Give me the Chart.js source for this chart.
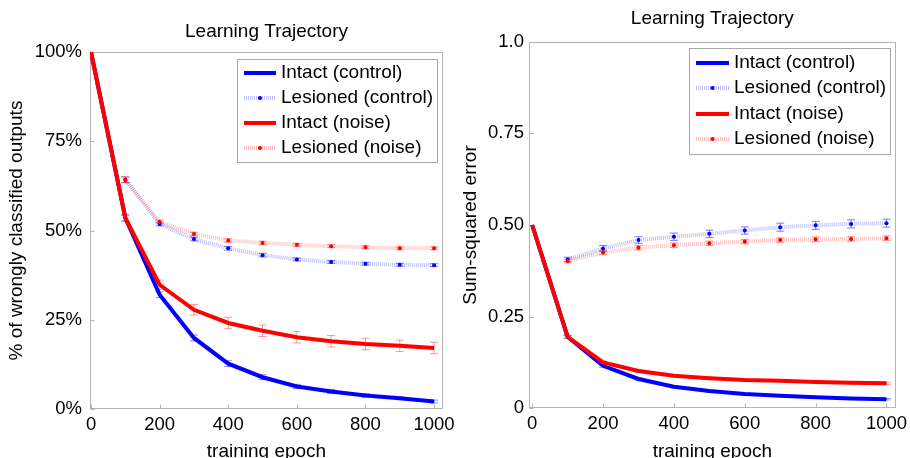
<!DOCTYPE html>
<html>
<head>
<meta charset="utf-8">
<title>Learning Trajectory</title>
<script src="https://cdn.jsdelivr.net/npm/chart.js@4.4.1/dist/chart.umd.min.js"></script>
<style>
  html, body { margin: 0; padding: 0; background: #fff; overflow: hidden; }
  #wrap { position: relative; width: 910px; height: 458px; overflow: hidden; }
  canvas { position: absolute; top: 0; }
  #errChart { left: 0; }
  #sseChart { left: 455px; }
</style>
</head>
<body>
<div id="wrap">
  <canvas id="errChart" width="455" height="470"></canvas>
  <canvas id="sseChart" width="455" height="470"></canvas>
</div>
<script>
// x values
const epochs = [0, 100, 200, 300, 400, 500, 600, 700, 800, 900, 1000];
const lesionEpochs = [100, 200, 300, 400, 500, 600, 700, 800, 900, 1000];
const xTicks = [0, 200, 400, 600, 800, 1000];
const seriesLabels = ["Intact (control)", "Lesioned (control)", "Intact (noise)", "Lesioned (noise)"];

// left panel: % of wrongly classified outputs
const pctTicks = [0, 25, 50, 75, 100];
const pctIntactControl = [100, 53.5, 32.0, 19.9, 12.7, 8.9, 6.3, 4.9, 3.8, 3.0, 2.1];
const pctIntactControlErr = [0, 0.8, 0.8, 0.8, 0.8, 0.7, 0.6, 0.6, 0.5, 0.4, 0.4];
const pctIntactNoise = [100, 53.5, 34.8, 27.8, 24.1, 21.9, 20.1, 19.0, 18.2, 17.7, 17.1];
const pctIntactNoiseErr = [0, 1.0, 1.3, 1.5, 1.6, 1.6, 1.6, 1.6, 1.6, 1.6, 1.6];
const pctLesionedControl = [64.2, 51.8, 47.6, 45.0, 43.1, 41.9, 41.2, 40.7, 40.4, 40.3];
const pctLesionedControlErr = [0.8, 0.5, 0.5, 0.5, 0.5, 0.4, 0.4, 0.4, 0.4, 0.4];
const pctLesionedNoise = [64.2, 52.4, 49.0, 47.2, 46.5, 46.0, 45.6, 45.3, 45.0, 45.0];
const pctLesionedNoiseErr = [0.8, 0.5, 0.5, 0.5, 0.5, 0.4, 0.4, 0.4, 0.4, 0.4];

// right panel: sum-squared error
const sseTicks = [0, 0.25, 0.5, 0.75, 1.0];
const sseTickLabels = ["0", "0.25", "0.50", "0.75", "1.0"];
const sseIntactControl = [0.5, 0.195, 0.116, 0.080, 0.059, 0.047, 0.039, 0.034, 0.030, 0.027, 0.025];
const sseIntactControlErr = [0, 0.004, 0.004, 0.003, 0.003, 0.002, 0.002, 0.002, 0.002, 0.002, 0.002];
const sseIntactNoise = [0.5, 0.195, 0.125, 0.102, 0.089, 0.082, 0.077, 0.075, 0.072, 0.070, 0.068];
const sseIntactNoiseErr = [0, 0.004, 0.004, 0.003, 0.003, 0.003, 0.003, 0.003, 0.003, 0.003, 0.003];
const sseLesionedControl = [0.406, 0.436, 0.459, 0.468, 0.476, 0.485, 0.494, 0.499, 0.503, 0.505];
const sseLesionedControlErr = [0.006, 0.008, 0.009, 0.010, 0.010, 0.010, 0.011, 0.011, 0.011, 0.011];
const sseLesionedNoise = [0.402, 0.425, 0.438, 0.445, 0.450, 0.455, 0.459, 0.461, 0.462, 0.464];
const sseLesionedNoiseErr = [0.005, 0.006, 0.006, 0.006, 0.006, 0.006, 0.006, 0.006, 0.006, 0.006];

const FONT = "'Liberation Sans', Arial, Helvetica, sans-serif";
Chart.defaults.font.family = FONT;
Chart.defaults.color = "#000";

function toPoints(xs, ys) {
    return xs.map((x, i) => ({ x: x, y: ys[i] }));
}

function intactSet(label, color, xs, ys, errs, errColor, order) {
    return {
        label: label, data: toPoints(xs, ys), errors: errs, errorColor: errColor,
        borderColor: color, backgroundColor: color, borderWidth: 4,
        pointRadius: 0, pointHoverRadius: 0, tension: 0, order: order
    };
}

function lesionSet(label, pale, dot, xs, ys, errs, errColor, order) {
    return {
        label: label, data: toPoints(xs, ys), errors: errs, errorColor: errColor,
        borderColor: pale, backgroundColor: pale, borderWidth: 4, borderDash: [1, 1],
        pointRadius: 2, pointHoverRadius: 2, pointBackgroundColor: dot, pointBorderWidth: 0,
        tension: 0, order: order
    };
}

// vertical error bars, drawn under the lines
const errorBars = {
    id: "errorBars",
    beforeDatasetsDraw(chart) {
        const ctx = chart.ctx;
        const yScale = chart.scales.y;
        chart.data.datasets.forEach((ds, i) => {
            if (!ds.errors) return;
            const meta = chart.getDatasetMeta(i);
            ctx.save();
            ctx.strokeStyle = ds.errorColor;
            ctx.lineWidth = 1;
            meta.data.forEach((pt, j) => {
                const e = ds.errors[j];
                if (!e) return;
                const v = ds.data[j].y;
                const top = yScale.getPixelForValue(v + e);
                const bot = yScale.getPixelForValue(v - e);
                ctx.beginPath();
                ctx.moveTo(pt.x, top); ctx.lineTo(pt.x, bot);
                ctx.moveTo(pt.x - 4, top); ctx.lineTo(pt.x + 4, top);
                ctx.moveTo(pt.x - 4, bot); ctx.lineTo(pt.x + 4, bot);
                ctx.stroke();
            });
            ctx.restore();
        });
    }
};

// light gray box round the plot with small inward ticks
const axisBox = {
    id: "axisBox",
    beforeDatasetsDraw(chart) {
        const { ctx, chartArea: a, scales } = chart;
        ctx.save();
        ctx.strokeStyle = "#b4b4b4";
        ctx.lineWidth = 1;
        const l = Math.round(a.left) + 0.5, r = Math.round(a.right) - 0.5;
        const t = Math.round(a.top) + 0.5, b = Math.round(a.bottom) - 0.5;
        ctx.strokeRect(l, t, r - l, b - t);
        ctx.beginPath();
        scales.x.ticks.forEach(tk => {
            const px = Math.round(scales.x.getPixelForValue(tk.value)) + 0.5;
            ctx.moveTo(px, b); ctx.lineTo(px, b - 4);
        });
        scales.y.ticks.forEach(tk => {
            const py = Math.round(scales.y.getPixelForValue(tk.value)) + 0.5;
            ctx.moveTo(l, py); ctx.lineTo(l + 4, py);
        });
        ctx.stroke();
        ctx.restore();
    }
};

// MATLAB style legend box inside the plot
const boxLegend = {
    id: "boxLegend",
    afterDraw(chart, args, opts) {
        const { ctx, chartArea } = chart;
        const sets = chart.data.datasets;
        ctx.save();
        ctx.font = "19px " + FONT;
        const textW = Math.max(...sets.map(d => ctx.measureText(d.label).width));
        const w = Math.round(opts.textX + textW + 4);
        const h = Math.round(sets.length * opts.rowH + 2 * opts.padY);
        const right = Math.round(chartArea.right - opts.right);
        const left = right - w;
        const top = Math.round(chartArea.top + opts.top);
        ctx.fillStyle = "#fff";
        ctx.fillRect(left, top, w, h);
        ctx.strokeStyle = "#a8a8a8";
        ctx.lineWidth = 1;
        ctx.strokeRect(left + 0.5, top + 0.5, w, h);
        sets.forEach((d, i) => {
            const cy = Math.round(top + opts.padY + opts.rowH * (i + 0.5));
            const x0 = Math.round(left + opts.lineX0), x1 = Math.round(left + opts.lineX1);
            ctx.save();
            ctx.strokeStyle = d.borderColor;
            ctx.lineWidth = d.borderWidth;
            ctx.setLineDash(d.borderDash || []);
            ctx.beginPath();
            ctx.moveTo(x0, cy);
            ctx.lineTo(x1, cy);
            ctx.stroke();
            ctx.restore();
            if (d.pointRadius) {
                ctx.fillStyle = d.pointBackgroundColor;
                ctx.beginPath();
                ctx.arc((x0 + x1) / 2, cy, d.pointRadius, 0, Math.PI * 2);
                ctx.fill();
            }
            ctx.fillStyle = "#000";
            ctx.textAlign = "left";
            ctx.textBaseline = "middle";
            ctx.fillText(d.label, left + opts.textX, cy);
        });
        ctx.restore();
    }
};

function makeChart(id, cfg) {
    return new Chart(document.getElementById(id), {
        type: "line",
        data: { datasets: cfg.datasets },
        options: {
            responsive: false,
            animation: false,
            layout: { padding: { left: 0, right: cfg.padRight, top: 0, bottom: 0 } },
            plugins: {
                legend: { display: false },
                tooltip: { enabled: false },
                title: {
                    display: true,
                    text: "Learning Trajectory",
                    fullSize: false,
                    font: { size: 19, weight: "normal" },
                    padding: cfg.titlePad
                },
                boxLegend: cfg.legend
            },
            scales: {
                x: {
                    type: "linear",
                    min: cfg.xMin,
                    max: 1026,
                    afterBuildTicks: s => { s.ticks = xTicks.map(v => ({ value: v })); },
                    afterFit: s => {
                        s.height = cfg.xHeight;
                        s.paddingLeft = 0;
                        s.paddingRight = 0;
                    },
                    grid: { display: false, drawTicks: false },
                    border: { display: false },
                    ticks: {
                        font: { size: 18.5 }, padding: 5, maxRotation: 0, autoSkip: false,
                        callback: v => String(v)
                    },
                    title: {
                        display: true, text: "training epoch",
                        font: { size: 19 }, padding: { top: 0, bottom: 6.6 }
                    }
                },
                y: {
                    type: "linear",
                    min: cfg.yMin,
                    max: cfg.yMax,
                    afterBuildTicks: s => { s.ticks = cfg.yTicks.map(v => ({ value: v })); },
                    afterFit: s => {
                        s.width = cfg.yWidth;
                        s.paddingTop = 0;
                        s.paddingBottom = 0;
                    },
                    grid: { display: false, drawTicks: false },
                    border: { display: false },
                    ticks: { font: { size: 18.5 }, padding: cfg.yTickPad, callback: cfg.yLabel },
                    title: {
                        display: true, text: cfg.yTitle,
                        font: { size: 19 }, padding: { top: cfg.yTitlePad, bottom: 0 }
                    }
                }
            }
        },
        plugins: [axisBox, errorBars, boxLegend]
    });
}

makeChart("errChart", {
    datasets: [
        intactSet(seriesLabels[0], "#0000ff", epochs, pctIntactControl, pctIntactControlErr, "rgba(0,0,255,0.45)", 1),
        lesionSet(seriesLabels[1], "rgba(0,0,255,0.25)", "#0000ff", lesionEpochs, pctLesionedControl, pctLesionedControlErr, "rgba(0,0,255,0.5)", 3),
        intactSet(seriesLabels[2], "#ff0000", epochs, pctIntactNoise, pctIntactNoiseErr, "rgba(255,0,0,0.4)", 0),
        lesionSet(seriesLabels[3], "rgba(255,0,0,0.25)", "#ff0000", lesionEpochs, pctLesionedNoise, pctLesionedNoiseErr, "rgba(255,0,0,0.45)", 2)
    ],
    padRight: 12,
    titlePad: { top: 20.6, bottom: 8.6 },
    xMin: -3,
    xHeight: 61,
    yMin: 0, yMax: 100,
    yTicks: pctTicks,
    yLabel: v => v + "%",
    yWidth: 90,
    yTickPad: 8,
    yTitle: "% of wrongly classified outputs",
    yTitlePad: 5.6,
    legend: { right: 6, top: 7, rowH: 25, padY: 1.5, lineX0: 7, lineX1: 39, textX: 44 }
});

makeChart("sseChart", {
    datasets: [
        intactSet(seriesLabels[0], "#0000ff", epochs, sseIntactControl, sseIntactControlErr, "rgba(0,0,255,0.45)", 1),
        lesionSet(seriesLabels[1], "rgba(0,0,255,0.25)", "#0000ff", lesionEpochs, sseLesionedControl, sseLesionedControlErr, "rgba(0,0,255,0.5)", 3),
        intactSet(seriesLabels[2], "#ff0000", epochs, sseIntactNoise, sseIntactNoiseErr, "rgba(255,0,0,0.4)", 0),
        lesionSet(seriesLabels[3], "rgba(255,0,0,0.25)", "#ff0000", lesionEpochs, sseLesionedNoise, sseLesionedNoiseErr, "rgba(255,0,0,0.45)", 2)
    ],
    padRight: 14.3,
    titlePad: { top: 7.6, bottom: 11.3 },
    xMin: -9,
    xHeight: 61.7,
    yMin: 0, yMax: 1,
    yTicks: sseTicks,
    yLabel: v => sseTickLabels[sseTicks.indexOf(v)],
    yWidth: 74,
    yTickPad: 5,
    yTitle: "Sum-squared error",
    yTitlePad: 4.6,
    legend: { right: 5.7, top: 6.3, rowH: 25.3, padY: 2.5, lineX0: 6.7, lineX1: 40, textX: 45 }
});
</script>
</body>
</html>
